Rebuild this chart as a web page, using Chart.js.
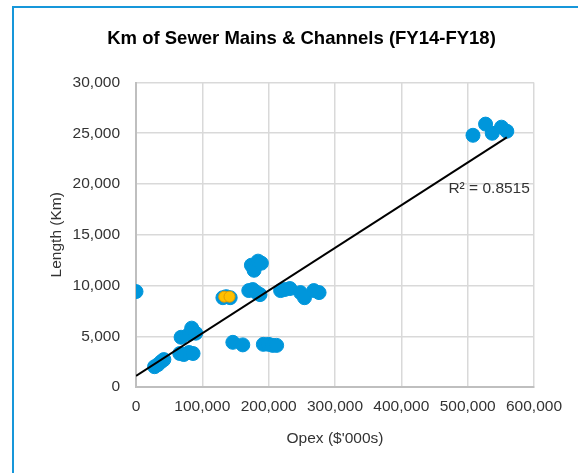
<!DOCTYPE html>
<html>
<head>
<meta charset="utf-8">
<title>Km of Sewer Mains & Channels</title>
<script src="https://cdn.jsdelivr.net/npm/chart.js"></script>
<style>
  html, body { margin: 0; padding: 0; background: #fff; overflow: hidden; }
  #frame {
    position: absolute; left: 12px; top: 6px;
    width: 575px; height: 465px;
    border-left: 2px solid #1797DA; border-top: 2px solid #1797DA;
  }
  #afstand { display: block; }
</style>
</head>
<body>
<div id="frame"><canvas id="afstand" width="575" height="465"></canvas></div>
<script>
// Opex ($'000s) vs length of sewer mains (Km), one point per council-year
var opex = [0,
  28000, 33000, 38000, 42000,
  66000, 72000, 80000, 86000,
  68000, 80000, 84000, 90000,
  131000, 136000, 142000,
  146000, 161000,
  192000, 200000, 206000, 212000,
  174000, 178000, 184000, 189000,
  170000, 176000, 182000, 187000,
  218000, 224000, 232000, 248000, 254000, 268000, 276000,
  508000, 527000, 537000, 551000, 559000];
var lengthKm = [9400,
  2000, 2200, 2500, 2700,
  3300, 3200, 3400, 3300,
  4900, 5200, 5800, 5300,
  8800, 8900, 8800,
  4400, 4150,
  4200, 4200, 4100, 4100,
  12000, 11500, 12400, 12200,
  9500, 9600, 9300, 9100,
  9500, 9600, 9700, 9300, 8800, 9500, 9300,
  24800, 25900, 25000, 25600, 25200];

// highlighted council (yellow)
var hiOpex = [133000, 141000];
var hiLength = [8900, 8900];

// linear trendline
var trendX = [0, 559000];
var trendY = [1100, 24600];
var r2Text = "R\u00b2 = 0.8515";
var r2At = [471000, 19500];

var chartTitle = "Km of Sewer Mains & Channels (FY14-FY18)";
var xTicks = { min: 0, max: 600000, step: 100000 };
var yTicks = { min: 0, max: 30000, step: 5000 };

var font = "'Liberation Sans', Arial, sans-serif";
var blue = "#0096DB";
var textCol = "#333333";

function pts(xs, ys) {
  var out = [];
  for (var i = 0; i < xs.length; i++) out.push({ x: xs[i], y: ys[i] });
  return out;
}

// title centred on the whole chart box, and the R² label next to the trendline
var texts = {
  id: "texts",
  afterDatasetsDraw: function (chart) {
    var c = chart.ctx;
    c.save();
    c.fillStyle = "#000";
    c.font = "bold 18.5px " + font;
    c.textAlign = "center";
    c.textBaseline = "middle";
    c.fillText(chartTitle, chart.width / 2, 31);
    c.font = "15.5px " + font;
    c.fillStyle = textCol;
    c.textAlign = "left";
    c.fillText(r2Text, chart.scales.x.getPixelForValue(r2At[0]), chart.scales.y.getPixelForValue(r2At[1]));
    c.restore();
  }
};

new Chart("afstand", {
  type: "scatter",
  data: {
    datasets: [{
      data: pts(trendX, trendY),
      showLine: true,
      borderColor: "#000",
      borderWidth: 2,
      pointRadius: 0
    }, {
      data: pts(hiOpex, hiLength),
      backgroundColor: "#FFC000",
      borderColor: "#E39B00",
      borderWidth: 1,
      pointRadius: 5.5
    }, {
      data: pts(opex, lengthKm),
      backgroundColor: blue,
      borderColor: blue,
      borderWidth: 1,
      pointRadius: 7
    }]
  },
  options: {
    responsive: false,
    animation: false,
    layout: { padding: { left: 0, right: 55, top: 74.5, bottom: 0 } },
    plugins: {
      legend: { display: false },
      tooltip: { enabled: false },
      title: { display: false }
    },
    scales: {
      x: {
        type: "linear",
        min: xTicks.min, max: xTicks.max,
        ticks: { stepSize: xTicks.step, color: textCol, padding: 10, font: { family: font, size: 15.5 } },
        grid: { color: "#d9d9d9", lineWidth: 1.5, drawTicks: false },
        border: { color: "#bfbfbf", width: 2 },
        title: { display: true, text: "Opex ($'000s)", color: textCol, font: { family: font, size: 15.5 }, padding: { top: 0, bottom: 25 } },
        afterFit: function (s) { s.height = 86; }
      },
      y: {
        type: "linear",
        min: yTicks.min, max: yTicks.max,
        ticks: { stepSize: yTicks.step, color: textCol, padding: 16, font: { family: font, size: 15.5 } },
        grid: { color: "#d9d9d9", lineWidth: 1.5, drawTicks: false },
        border: { color: "#bfbfbf", width: 2 },
        title: { display: true, text: "Length (Km)", color: textCol, font: { family: font, size: 15.5 }, padding: { top: 33, bottom: 0 } },
        afterFit: function (s) { s.width = 122; }
      }
    }
  },
  plugins: [texts]
});
</script>
</body>
</html>
